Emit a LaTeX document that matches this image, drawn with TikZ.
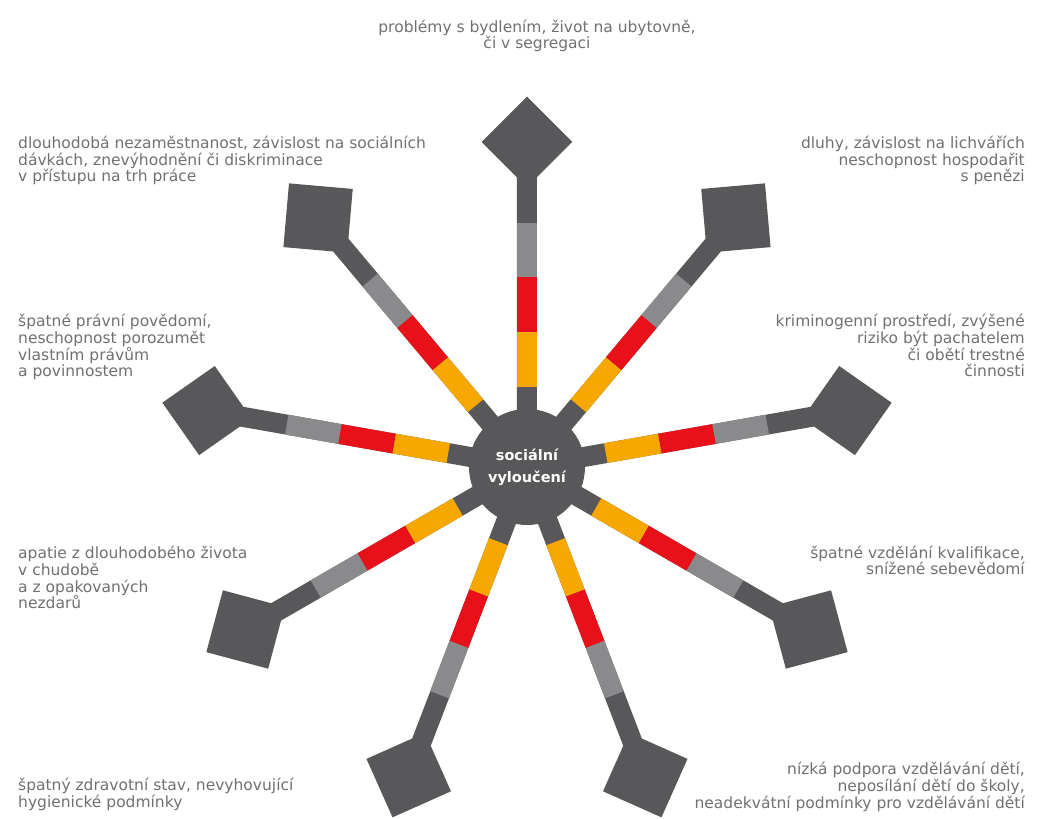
\documentclass[tikz,border=0pt]{standalone}
\usepackage{fontspec}
\setmainfont{DejaVu Sans}
\usepackage{tikz}
\definecolor{darkgrey}{HTML}{58585A}
\definecolor{midgrey}{HTML}{8A8A8C}
\definecolor{signalred}{HTML}{E8111A}
\definecolor{amber}{HTML}{F6A800}
\definecolor{textgrey}{HTML}{707070}

\begin{document}
\begin{tikzpicture}[x=1pt,y=1pt,
  hub/.style={circle,fill=darkgrey,minimum size=116pt,inner sep=0pt,text=white,
    font=\fontsize{14.5}{21}\selectfont\bfseries,align=center},
  box/.style={rectangle,fill=darkgrey,minimum size=64pt,inner sep=0pt},
  spoke/.style={draw=darkgrey,line width=20pt,shorten <=-3pt,shorten >=-14pt},
  amberbar/.style={draw=amber,line width=20pt},
  redbar/.style={draw=signalred,line width=20pt},
  greybar/.style={draw=midgrey,line width=20pt},
  note/.style={text=textgrey,font=\fontsize{15.5}{16.7}\selectfont,inner sep=0pt}]
\useasboundingbox (-527,-352) rectangle (510,467);
\node[hub] (c) at (0,0) {\raisebox{-4pt}{\shortstack{sociální\\[7pt]vyloučení}}};
\node[box,rotate=135] (s1) at (90:325) {};
\node[box,rotate=95] (s2) at (50:325) {};
\node[box,rotate=55] (s3) at (10:325) {};
\node[box,rotate=15] (s4) at (-30:325) {};
\node[box,rotate=-24] (s5) at (-69:330) {};
\node[box,rotate=-66] (s6) at (-111:330) {};
\node[box,rotate=-105] (s7) at (-150:325) {};
\node[box,rotate=215] (s8) at (170:325) {};
\node[box,rotate=175] (s9) at (130:325) {};
\draw[spoke] (c) -- (s1);
\draw[spoke] (c) -- (s2);
\draw[spoke] (c) -- (s3);
\draw[spoke] (c) -- (s4);
\draw[spoke] (c) -- (s5);
\draw[spoke] (c) -- (s6);
\draw[spoke] (c) -- (s7);
\draw[spoke] (c) -- (s8);
\draw[spoke] (c) -- (s9);
\draw[amberbar] (90:80) -- (90:135);
\draw[redbar] (90:135) -- (90:190);
\draw[greybar] (90:190) -- (90:244);
\draw[amberbar] (50:80) -- (50:135);
\draw[redbar] (50:135) -- (50:190);
\draw[greybar] (50:190) -- (50:244);
\draw[amberbar] (10:80) -- (10:135);
\draw[redbar] (10:135) -- (10:190);
\draw[greybar] (10:190) -- (10:244);
\draw[amberbar] (-30:80) -- (-30:135);
\draw[redbar] (-30:135) -- (-30:190);
\draw[greybar] (-30:190) -- (-30:244);
\draw[amberbar] (-69:80) -- (-69:135);
\draw[redbar] (-69:135) -- (-69:190);
\draw[greybar] (-69:190) -- (-69:244);
\draw[amberbar] (-111:80) -- (-111:135);
\draw[redbar] (-111:135) -- (-111:190);
\draw[greybar] (-111:190) -- (-111:244);
\draw[amberbar] (-150:80) -- (-150:135);
\draw[redbar] (-150:135) -- (-150:190);
\draw[greybar] (-150:190) -- (-150:244);
\draw[amberbar] (170:80) -- (170:135);
\draw[redbar] (170:135) -- (170:190);
\draw[greybar] (170:190) -- (170:244);
\draw[amberbar] (130:80) -- (130:135);
\draw[redbar] (130:135) -- (130:190);
\draw[greybar] (130:190) -- (130:244);
\node[note,anchor=base,align=center] (housing) at (10,418)
  {problémy s bydlením, život na ubytovně,\\či v segregaci};
\node[note,anchor=base west,align=left] (jobs) at (-509,285)
  {dlouhodobá nezaměstnanost, závislost na sociálních\\dávkách, znevýhodnění či diskriminace\\v přístupu na trh práce};
\node[note,anchor=base east,align=right] (debts) at (498,285)
  {dluhy, závislost na lichvářích\\neschopnost hospodařit\\s penězi};
\node[note,anchor=base west,align=left] (rights) at (-509,90)
  {špatné právní povědomí,\\neschopnost porozumět\\vlastním právům\\a povinnostem};
\node[note,anchor=base east,align=right] (crime) at (498,90)
  {kriminogenní prostředí, zvýšené\\riziko být pachatelem\\či obětí trestné\\činnosti};
\node[note,anchor=base west,align=left] (apathy) at (-509,-142)
  {apatie z dlouhodobého života\\v chudobě\\a z opakovaných\\nezdarů};
\node[note,anchor=base east,align=right] (skills) at (498,-108)
  {špatné vzdělání kvalifikace,\\snížené sebevědomí};
\node[note,anchor=base west,align=left] (health) at (-509,-340)
  {špatný zdravotní stav, nevyhovující\\hygienické podmínky};
\node[note,anchor=base east,align=right] (school) at (498,-341)
  {nízká podpora vzdělávání dětí,\\neposílání dětí do školy,\\neadekvátní podmínky pro vzdělávání dětí};
\end{tikzpicture}
\end{document}
